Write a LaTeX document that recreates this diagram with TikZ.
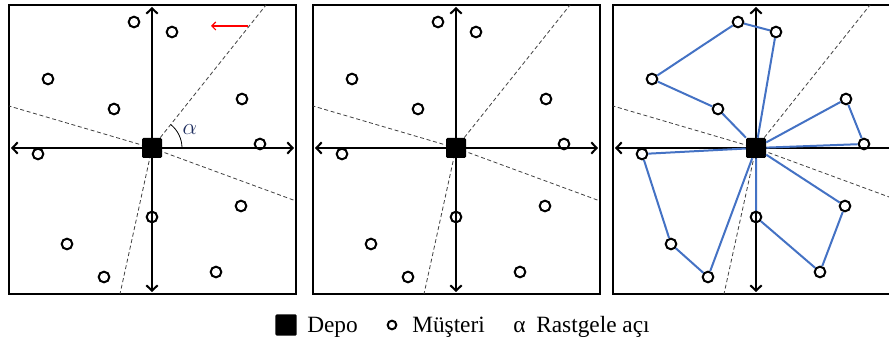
\documentclass[tikz,border=0pt]{standalone}
\usepackage{fontspec}
\setmainfont{Liberation Serif}
\usetikzlibrary{calc,angles,quotes,positioning,arrows.meta}
\definecolor{routeblue}{RGB}{68,114,196}
\definecolor{alphablue}{RGB}{30,45,95}

\begin{document}
\begin{tikzpicture}[x=0.75pt, y=0.75pt,
	customer/.style = {draw, circle, line width=1.5pt, minimum size=8pt, inner sep=0pt},
	depot/.style = {fill=black, rounded corners=1pt, minimum size=15pt, inner sep=0pt},
	axis/.style = {<->, >={Straight Barb[length=4pt,width=8.5pt]}, line width=1.5pt},
	sector/.style = {densely dashed, line width=0.6pt, black!75},
	route/.style = {draw=routeblue, line width=1.5pt},
	legend/.style = {anchor=base west, inner sep=0pt, font=\fontsize{17.5}{19}\selectfont},
	my angle/.style = {draw, line width=0.6pt,
                   angle radius=22.5pt,
                   angle eccentricity=1.4,
                   text=alphablue,
                   font=\fontsize{17}{19}\selectfont}
	]
\path[use as bounding box, clip] (0,0) rectangle (889,342);

\foreach \p/\cx in {1/152, 2/456, 3/756} {
	\begin{scope}[shift={(\cx,194)}]
	\draw[line width=2pt] (-143,-146) rectangle (144,143);
	\coordinate (o\p) at (0,0);
	\coordinate (ra\p) at (114,143);
	\coordinate (rb\p) at (-143,42);
	\coordinate (rc\p) at (144,-53);
	\coordinate (rd\p) at (-32,-146);
	\foreach \r in {ra,rb,rc,rd}
		\draw[sector] (o\p) -- (\r\p);
	\coordinate (w\p) at (-141,0);
	\coordinate (e\p) at (142,0);
	\coordinate (n\p) at (0,141);
	\coordinate (s\p) at (0,-144);
	\draw[axis] (w\p) -- (e\p);
	\draw[axis] (s\p) -- (n\p);
	\node[depot] (d\p) at (o\p) {};
	\foreach \i/\x/\y in {1/-18/126, 2/20/116, 3/-104/69, 4/-38/39, 5/90/49, 6/108/4,
	                      7/-114/-6, 8/0/-69, 9/89/-58, 10/-85/-96, 11/-48/-129, 12/64/-124}
		\node[customer] (c\p-\i) at (\x,\y) {};
	\end{scope}
}

% random angle
\coordinate (t1) at (248,316);
\coordinate (t2) at (211,316);
\draw[red, -{Straight Barb[length=3pt,width=6pt]}, line width=0.8pt] (t1) -- (t2);
\pic[my angle, "$\alpha$"] {angle = e1--o1--ra1};

% routes
\draw[route] (d3) -- (c3-2) -- (c3-1) -- (c3-3) -- (c3-4) -- (d3);
\draw[route] (d3) -- (c3-5) -- (c3-6) -- (d3);
\draw[route] (d3) -- (c3-9) -- (c3-12) -- (c3-8) -- (d3);
\draw[route] (d3) -- (c3-7) -- (c3-10) -- (c3-11) -- (d3);

% legend
\node[depot, minimum size=16pt] (ldepot) at (286,17) {};
\node[legend] (ldepo) at (307,9) {Depo};
\node[customer, line width=1.5pt, minimum size=6.5pt] (lcust) at (392,17) {};
\node[legend] (lmus) at (412,9) {Müşteri};
\node[legend] (lalpha) at (513,9) {α};
\node[legend] (lrast) at (536,9) {Rastgele açı};
\end{tikzpicture}
\end{document}
